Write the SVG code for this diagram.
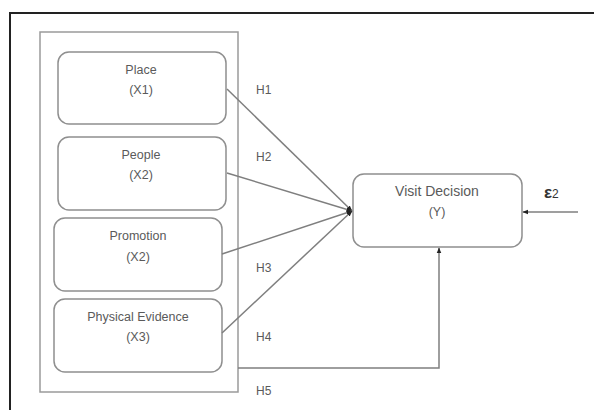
<svg xmlns="http://www.w3.org/2000/svg" width="594" height="410" viewBox="0 0 594 410">
<style>
.box{fill:#fff;stroke:#8f8f8f;stroke-width:1.5}
.lbl{font-family:"Liberation Sans",Arial,sans-serif;font-size:12.5px;fill:#5a5a5a;text-anchor:middle}
.big{font-size:14px}
.h{font-family:"Liberation Sans",Arial,sans-serif;font-size:12px;fill:#5a5a5a}
.ln{stroke:#7f7f7f;stroke-width:1.5;fill:none}
</style>
<defs>
<marker id="ah" viewBox="0 0 10 10" refX="9" refY="5" markerWidth="6" markerHeight="6" orient="auto" markerUnits="userSpaceOnUse">
<path d="M0,1 L10,5 L0,9 Z" fill="#222"/>
</marker>
</defs>
<rect width="594" height="410" fill="#fff"/>
<path d="M10,410 L10,13 L594,13" fill="none" stroke="#222" stroke-width="2"/>
<g id="container"><rect x="40" y="32" width="198" height="360" fill="none" stroke="#9a9a9a" stroke-width="1.5"/></g>
<g id="place"><rect class="box" x="58" y="52" width="168" height="72" rx="11"/><text class="lbl" x="141" y="74">Place</text><text class="lbl" x="141" y="94">(X1)</text></g>
<g id="people"><rect class="box" x="58" y="137" width="168" height="73" rx="11"/><text class="lbl" x="141" y="159">People</text><text class="lbl" x="141" y="179">(X2)</text></g>
<g id="promotion"><rect class="box" x="54" y="218" width="168" height="73" rx="11"/><text class="lbl" x="138" y="240">Promotion</text><text class="lbl" x="138" y="261">(X2)</text></g>
<g id="physical"><rect class="box" x="54" y="299" width="168" height="73" rx="11"/><text class="lbl" x="138" y="321">Physical Evidence</text><text class="lbl" x="138" y="341">(X3)</text></g>
<g id="visit"><rect class="box" x="353" y="174" width="169" height="73" rx="11"/><text class="lbl big" x="437" y="196">Visit Decision</text><text class="lbl" x="437" y="216">(Y)</text></g>
<g id="connectors">
<line class="ln" x1="227" y1="89" x2="352" y2="211" marker-end="url(#ah)"/>
<line class="ln" x1="227" y1="173" x2="352" y2="211" marker-end="url(#ah)"/>
<line class="ln" x1="222" y1="254" x2="352" y2="211" marker-end="url(#ah)"/>
<line class="ln" x1="222" y1="333" x2="352" y2="211" marker-end="url(#ah)"/>
<polyline class="ln" points="238,368 439,368 439,248" marker-end="url(#ah)"/>
<line class="ln" x1="578" y1="212" x2="523" y2="212" marker-end="url(#ah)"/>
</g>
<g id="labels">
<text class="h" x="256" y="94">H1</text>
<text class="h" x="256" y="161">H2</text>
<text class="h" x="256" y="272">H3</text>
<text class="h" x="256" y="341">H4</text>
<text class="h" x="256" y="395">H5</text>
<text x="544" y="198" font-family="Liberation Sans,Arial,sans-serif" font-size="17" fill="#333" font-weight="bold">ε<tspan font-size="12" font-weight="normal">2</tspan></text>
</g>
</svg>
